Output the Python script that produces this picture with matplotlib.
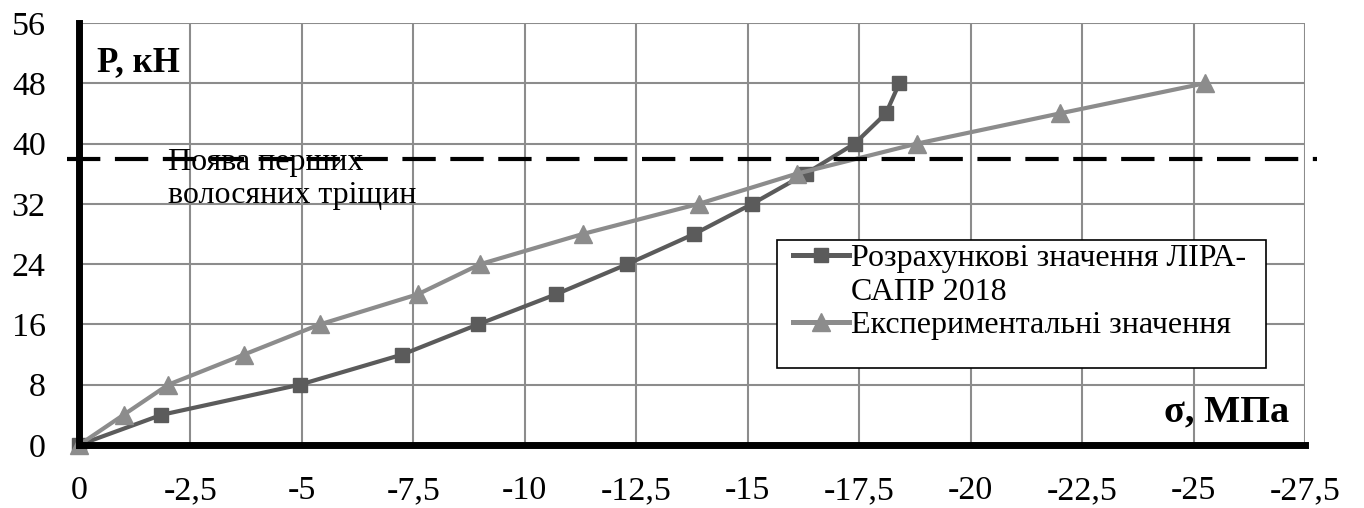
import matplotlib
matplotlib.use("Agg")
import matplotlib.pyplot as plt
from matplotlib.patches import Rectangle

plt.rcParams['font.family'] = ['Liberation Serif', 'DejaVu Serif']

# load levels, kN
load = [0, 4, 8, 12, 16, 20, 24, 28, 32, 36, 40, 44, 48]
# stresses, MPa
sigma_calc = [0, -1.85, -4.95, -7.25, -8.95, -10.7, -12.3, -13.8, -15.1, -16.3, -17.4, -18.1, -18.4]
sigma_exp = [0, -1.0, -2.0, -3.7, -5.4, -7.6, -9.0, -11.3, -13.9, -16.1, -18.8, -22.0, -25.25]

label_calc = ["Розрахункові значення ЛІРА-", "САПР 2018"]
label_exp = "Експериментальні значення"

crack_load = 38
crack_text = "Поява перших\nволосяних тріщин"

x_ticks = [0, -2.5, -5, -7.5, -10, -12.5, -15, -17.5, -20, -22.5, -25, -27.5]
x_tick_labels = ["0", "-2,5", "-5", "-7,5", "-10", "-12,5", "-15", "-17,5", "-20", "-22,5", "-25", "-27,5"]
y_ticks = [0, 8, 16, 24, 32, 40, 48, 56]

W, H = 1364, 508
fig = plt.figure(figsize=(W / 100, H / 100), dpi=100)
ax = fig.add_axes([79 / W, 1 - 445 / H, (1305 - 79) / W, (445 - 23) / H])

ax.set_xlim(0, -27.5)
ax.set_ylim(0, 56)
ax.set_xticks(x_ticks)
ax.set_xticklabels(x_tick_labels)
ax.set_yticks(y_ticks)
ax.tick_params(length=0, labelsize=24.5)
ax.tick_params(axis='x', pad=22)
ax.tick_params(axis='y', pad=24)

ax.grid(True, color='#8c8c8c', linewidth=1.5)
ax.set_axisbelow(True)
for s in ['top', 'right']:
    ax.spines[s].set_visible(False)
for s in ['left', 'bottom']:
    ax.spines[s].set_linewidth(5)
    ax.spines[s].set_color('black')
    ax.spines[s].set_zorder(5)

l1, = ax.plot(sigma_calc, load, color='#5b5b5b', lw=3, marker='s', ms=10,
              zorder=3, clip_on=False)
l2, = ax.plot(sigma_exp, load, color='#8c8c8c', lw=3, marker='^', ms=13,
              zorder=4, clip_on=False)
# empty handle for the second line of the first legend label
blank, = ax.plot([], [], color='none')

# crack line
ax.plot([-0.01, 1.01], [crack_load, crack_load], transform=ax.get_yaxis_transform(),
        color='black', lw=3, dashes=(8, 3.5), clip_on=False, zorder=6)
ax.text(-2.0, crack_load + 1.4, crack_text, fontsize=23, ha='left', va='top',
        linespacing=1.2, zorder=2)

ax.text(-0.4, 50.8, "P, кН", fontsize=25, fontweight='bold', ha='left', va='center')
ax.text(-27.15, 4.4, "σ, МПа", fontsize=27.5, fontweight='bold', ha='right', va='center')

# legend box
ax.add_patch(Rectangle((777 / W, 1 - 368 / H), (1266 - 777) / W, (368 - 240) / H,
                       transform=fig.transFigure, facecolor='white', edgecolor='black',
                       lw=1.2, zorder=7, clip_on=False))
leg = ax.legend(handles=[l1, blank, l2], labels=[label_calc[0], label_calc[1], label_exp],
                loc='upper left',
                bbox_to_anchor=(793 / W, 1 - 244 / H), bbox_transform=fig.transFigure,
                frameon=False, fontsize=23, handlelength=1.75, handletextpad=0.08,
                labelspacing=0.12, borderpad=0, borderaxespad=0)
leg.set_zorder(8)
for h in leg.legend_handles:
    h.set_linewidth(3.6)

fig.savefig("out.png", dpi=100)
